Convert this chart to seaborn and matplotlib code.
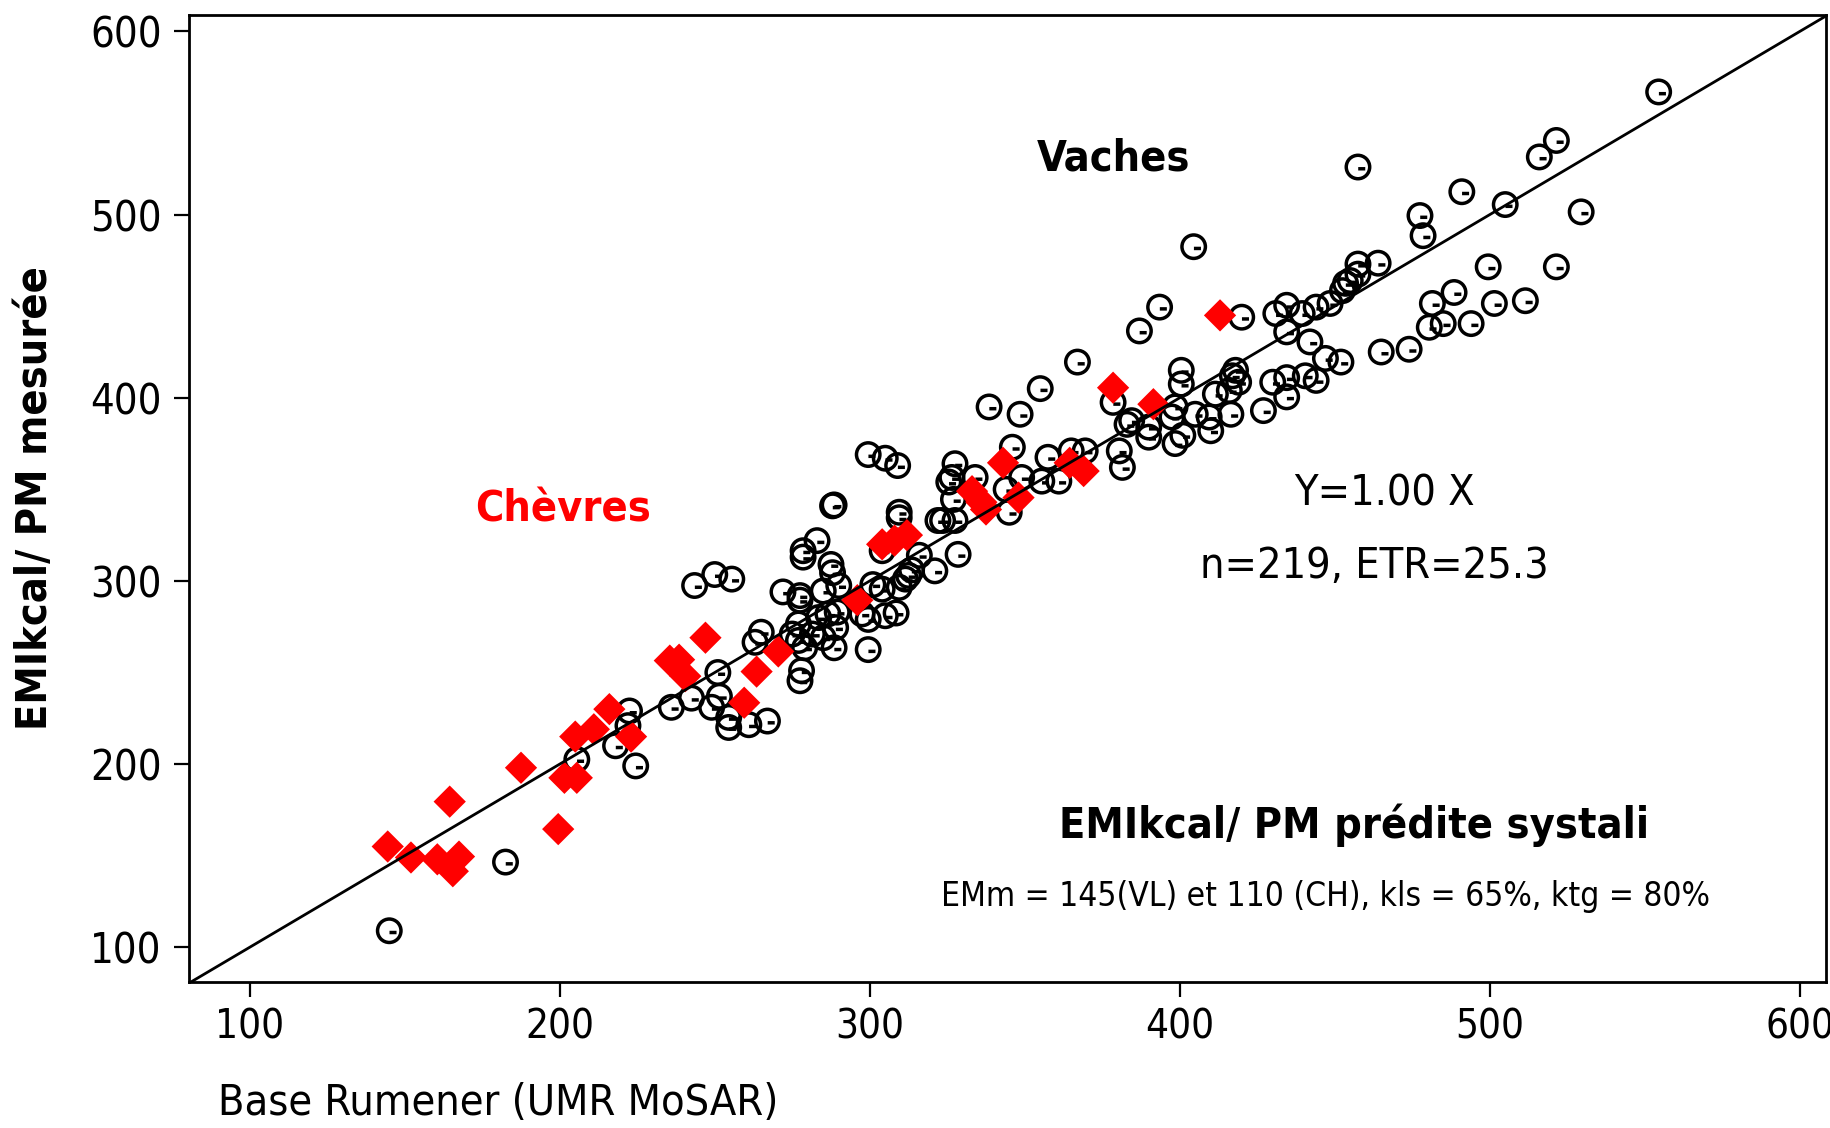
import numpy as np
import pandas as pd
import matplotlib
matplotlib.use("Agg")
import matplotlib.pyplot as plt
import seaborn as sns
from matplotlib.path import Path
from matplotlib.markers import MarkerStyle

# ---------------- data ----------------
cow_x = [145, 182.5, 205.5, 218, 224.5, 222.5, 222, 236,
         243.5, 250, 255.5, 272, 277.5, 277.5, 285, 290, 288, 301, 304, 309.5, 311.5, 312.5, 321,
         297.5, 299.5, 305, 308.5, 299.5, 288.5, 285, 286.5, 289, 283.5, 277, 277, 279, 281.5, 263, 265,
         251, 278, 277.5, 242.5, 251.5, 249, 254.5, 254.5, 261, 267, 289.5, 275,
         338.5, 348.5, 299.5, 305, 309, 288, 288.5, 309.5, 309.5, 283, 278.5, 278.5, 287.5, 327.5,
         326.5, 325.5, 327, 327.5, 322, 323.5, 334, 346, 344, 345, 349, 328.5, 316, 304, 313.5,
         393.5, 387, 367, 355, 420, 431, 434.5, 434.5, 439.5, 444, 448.5, 452.5, 453.5, 442, 447, 452,
         430, 434.5, 434.5, 440.5, 444, 427, 418, 417, 419, 416, 411.5, 416.5, 400.5, 400.5, 398.5,
         397.5, 405, 409.5, 410, 401, 398.5, 390, 390, 383, 384.5, 378.5, 380.5, 381.5, 369.5, 365,
         357.5, 361, 355.5,
         488.5, 481.5, 501.5, 511.5, 480.5, 485, 494, 474, 465,
         554.5, 521.5, 516, 457.5, 491, 505, 529.5, 477.5, 478.5, 464, 457.5, 457.5, 455, 499.5,
         521.5, 404.5]
cow_y = [109, 146.5, 202.5, 210, 199, 229, 221, 231,
         297.5, 303.5, 301, 294, 292, 289.5, 294.5, 297.5, 304.5, 298, 295.5, 296.5, 301, 303, 305.5,
         282, 279, 281, 282.5, 262.5, 263.5, 269, 282, 274.5, 280, 276.5, 267.5, 263.5, 271, 266.5, 272,
         250, 251, 245.5, 236, 237, 231, 225.5, 220, 221.5, 223.5, 283, 271,
         395, 391, 369, 367, 363, 341, 341.5, 337.5, 334.5, 322, 316.5, 313, 309, 364,
         356.5, 354, 344.5, 333, 333, 333, 356.5, 373, 350, 337.5, 356.5, 314.5, 314, 316.5, 306,
         449.5, 436.5, 419.5, 405, 444, 446, 450.5, 436, 446, 449.5, 451.5, 458.5, 462.5, 430.5, 421.5, 419.5,
         408.5, 411, 400.5, 412, 409.5, 393, 415, 412, 408.5, 404, 402, 391, 415, 407.5, 395,
         389.5, 391, 389.5, 382, 379.5, 375, 384, 378.5, 385.5, 387.5, 397.5, 371, 362, 371, 371,
         367.5, 354.5, 354.5,
         457.5, 451.5, 451.5, 453, 438.5, 440.5, 440.5, 426.5, 425,
         567, 540.5, 531.5, 526, 512.5, 505.5, 501.5, 499.5, 488.5, 473.5, 473, 467.5, 464, 471.5,
         471.5, 482.5]

goat_x = [144.5, 152, 160.5, 165.5, 167.5, 164.5, 187.5, 199.5, 201.5, 205.5, 205, 211, 216, 223,
          235.5, 238.5, 240.5, 247, 259.5, 263.5, 270.5, 296, 304, 308, 312, 333, 336, 337.5, 343,
          348, 364.5, 369, 378.5, 391.5, 413]
goat_y = [155, 149, 148, 141.5, 149.5, 179.5, 198, 164.5, 192.5, 192.5, 215, 219, 230, 215,
          256.5, 257, 248, 269, 233.5, 250.5, 261.5, 289.5, 320, 322, 325, 349, 343, 339, 364.5,
          345.5, 364.5, 360, 405.5, 396.5, 445]

diag = [70, 620]                      # Y = 1.00 X reference line
ticks = [100, 200, 300, 400, 500, 600]

cows = pd.DataFrame({"x": cow_x, "y": cow_y})
goats = pd.DataFrame({"x": goat_x, "y": goat_y})
line = pd.DataFrame({"x": diag, "y": diag})

# ---------------- style ----------------
sns.set_style("ticks")
plt.rcParams["font.family"] = ["DejaVu Sans"]
plt.rcParams["font.stretch"] = "condensed"
plt.rcParams["text.color"] = "black"
plt.rcParams["axes.labelcolor"] = "black"

fig = plt.figure(figsize=(18.31, 11.28), dpi=100)
ax = fig.add_axes([0.1034, 0.1294, 0.9973 - 0.1034, 0.9867 - 0.1294])

# circle with a small dash inside
circ = Path.unit_circle()
dash = Path([(0.02, -0.15), (0.62, -0.15)], [Path.MOVETO, Path.LINETO])
cow_marker = MarkerStyle(Path.make_compound_path(circ, dash))

sns.scatterplot(data=cows, x="x", y="y", ax=ax, marker=cow_marker, s=285,
                facecolor="none", edgecolor="black", linewidth=2.5, zorder=2, legend=False)
sns.scatterplot(data=goats, x="x", y="y", ax=ax, marker="D", s=270,
                color="#ff0000", edgecolor="none", linewidth=0, zorder=3, legend=False)
sns.lineplot(data=line, x="x", y="y", ax=ax, color="black", linewidth=2.0, zorder=4)

ax.set_xlim(80.5, 608.5)
ax.set_ylim(81, 609)
ax.set_xticks(ticks)
ax.set_yticks(ticks)
ax.set_xticklabels([str(t) for t in ticks])
ax.set_yticklabels([str(t) for t in ticks])

for sp in ax.spines.values():
    sp.set_visible(True)
    sp.set_color("black")
    sp.set_linewidth(2.0)

ax.tick_params(axis="both", which="major", direction="out", length=11, width=1.6,
               colors="black", top=False, right=False)
ax.tick_params(axis="x", pad=7, labelsize=29)
ax.tick_params(axis="y", pad=9, labelsize=30)

ax.set_xlabel("Base Rumener (UMR MoSAR)", fontsize=31, color="black")
ax.xaxis.label.set_horizontalalignment("left")
ax.xaxis.set_label_coords(0.0175, -0.125)
ax.xaxis.label.set_verticalalignment("center")

ax.set_ylabel("EMIkcal/ PM mesurée", fontsize=31, fontweight="bold", color="black")
ax.yaxis.set_label_coords(-0.094, 0.5)
ax.yaxis.label.set_verticalalignment("center")

# annotations
ax.text(378.5, 530.6, "Vaches", fontsize=31, fontweight="bold", ha="center", va="center", color="black")
ax.text(201.2, 338.8, "Chèvres", fontsize=31, fontweight="bold", ha="center", va="center", color="#ff0000")
ax.text(466.1, 347.7, "Y=1.00 X", fontsize=31, ha="center", va="center", color="black")
ax.text(462.7, 308.3, "n=219, ETR=25.3", fontsize=31, ha="center", va="center", color="black")
ax.text(456.3, 166.7, "EMIkcal/ PM prédite systali", fontsize=31, fontweight="bold",
        ha="center", va="center", color="black")
ax.text(446.9, 127.9, "EMm = 145(VL) et 110 (CH), kls = 65%, ktg = 80%", fontsize=24,
        ha="center", va="center", color="black")

fig.savefig("out.png", dpi=100, facecolor="white")
